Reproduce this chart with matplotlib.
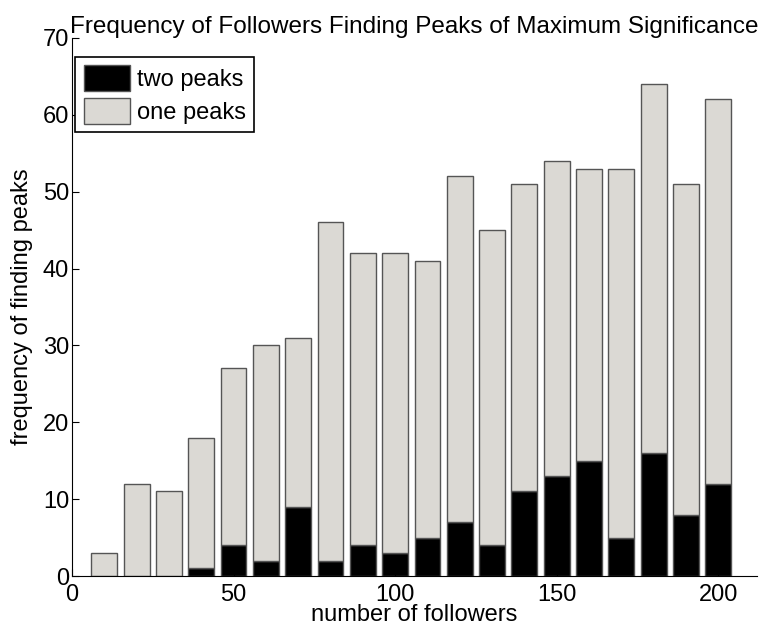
import numpy as np
import matplotlib.pyplot as plt

plt.rcParams['font.family'] = ['Liberation Sans', 'DejaVu Sans']

followers = [10, 20, 30, 40, 50, 60, 70, 80, 90, 100,
             110, 120, 130, 140, 150, 160, 170, 180, 190, 200]
total = [3, 12, 11, 18, 27, 30, 31, 46, 42, 42,
         41, 52, 45, 51, 54, 53, 53, 64, 51, 62]
two_peaks = [0, 0, 0, 1, 4, 2, 9, 2, 4, 3,
             5, 7, 4, 11, 13, 15, 5, 16, 8, 12]
one_peaks = [t - w for t, w in zip(total, two_peaks)]

fig = plt.figure(figsize=(7.62, 6.28), dpi=100)
ax = fig.add_axes([0.0945, 0.0828, 0.899, 0.8567])

grey = '#dbd9d4'
edge = '#555555'
ax.bar(followers, two_peaks, width=8, color='black', edgecolor=edge,
       linewidth=1, label='two peaks')
ax.bar(followers, one_peaks, width=8, bottom=two_peaks, color=grey,
       edgecolor=edge, linewidth=1, label='one peaks')

ax.set_xlim(0, 212)
ax.set_ylim(0, 70)
ax.set_xticks([0, 50, 100, 150, 200])
ax.set_yticks(np.arange(0, 71, 10))
ax.tick_params(direction='in', length=5, labelsize=17)
ax.tick_params(axis='x', pad=6)
ax.tick_params(axis='y', pad=2)
ax.spines['top'].set_visible(False)
ax.spines['right'].set_visible(False)

ax.set_title('Frequency of Followers Finding Peaks of Maximum Significance',
             fontsize=17.5, pad=1)
ax.set_xlabel('number of followers', fontsize=17, labelpad=-1.5)
ax.set_ylabel('frequency of finding peaks', fontsize=17, labelpad=7)

leg = ax.legend(loc='upper left', fontsize=17, fancybox=False,
                edgecolor='black', framealpha=1, handlelength=1.95,
                handleheight=1.3, borderpad=0.35, labelspacing=0.3,
                handletextpad=0.3, borderaxespad=0,
                bbox_to_anchor=(0.005, 0.965))
leg.get_frame().set_linewidth(1.2)

plt.savefig('out.png', dpi=100)
